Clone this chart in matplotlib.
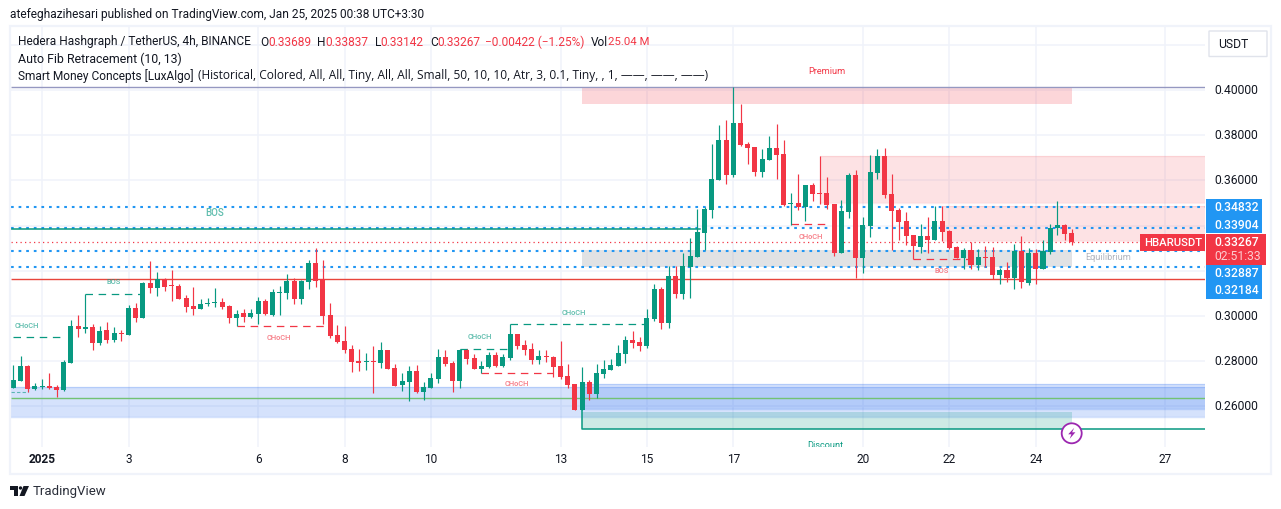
import numpy as np
import matplotlib
matplotlib.use('Agg')
import matplotlib.pyplot as plt
from matplotlib.patches import Rectangle, FancyBboxPatch, Polygon, Ellipse

W, H = 1281, 509
plt.rcParams['font.family'] = ['Roboto', 'DejaVu Sans']

UP = '#089981'
DOWN = '#f23645'
BLUE = '#2196f3'
INK = '#131722'
GRID = '#f0f3fa'

# 4h candles
opens = [.2683, .2714, .2779, .2677, .2688, .2690, .2685, .2673, .2794, .2956, .2944, .2952, .2882, .2938, .2894, .2925,
         .2918, .3036, .2993, .3146, .3126, .3162, .3137, .3133, .3080, .3044, .3033, .3053, .3059, .3062, .3044, .2993,
         .3013, .2997, .3010, .3067, .3005, .3103, .3103, .3155, .3077, .3152, .3235, .3162, .3005, .2916, .2889, .2854,
         .2801, .2798, .2801, .2792, .2849, .2770, .2694, .2708, .2756, .2663, .2681, .2721, .2818, .2792, .2712, .2849,
         .2814, .2765, .2774, .2827, .2778, .2814, .2920, .2871, .2854, .2805, .2823, .2818, .2778, .2734, .2699, .2584,
         .2708, .2655, .2743, .2761, .2778, .2832, .2893, .2885, .2867, .2986, .3119, .2969, .3177, .3097, .3217, .3261,
         .3367, .3469, .3602, .3778, .3624, .3854, .3761, .3747, .3637, .3690, .3743, .3717, .3495, .3500, .3482, .3579,
         .3544, .3544, .3495, .3278, .3460, .3624, .3256, .3398, .3632, .3708, .3540, .3469, .3421, .3359, .3306, .3354,
         .3337, .3421, .3376, .3306, .3257, .3292, .3226, .3261, .3261, .3182, .3204, .3168, .3288, .3146, .3279, .3208,
         .3283, .3390, .3403, .33689]
highs = [.2783, .2823, .2783, .2704, .2721, .2748, .2695, .2805, .2983, .3005, .3096, .2965, .2956, .2974, .2952, .2938,
         .3049, .3058, .3151, .3244, .3195, .3168, .3204, .3142, .3093, .3129, .3075, .3080, .3124, .3080, .3049, .3027,
         .3031, .3031, .3084, .3075, .3120, .3133, .3186, .3168, .3159, .3248, .3301, .3248, .3058, .2960, .2955, .2871,
         .2854, .2836, .2867, .2885, .2849, .2787, .2747, .2778, .2783, .2708, .2747, .2854, .2849, .2801, .2854, .2854,
         .2832, .2801, .2840, .2840, .2832, .2964, .2920, .2893, .2880, .2849, .2849, .2823, .2889, .2787, .2699, .2774,
         .2716, .2787, .2805, .2809, .2871, .2911, .2933, .2907, .3031, .3141, .3128, .3221, .3221, .3278, .3345, .3473,
         .3482, .3761, .3845, .3867, .4013, .3938, .3770, .3747, .3739, .3796, .3849, .3778, .3544, .3628, .3579, .3588,
         .3708, .3615, .3495, .3513, .3632, .3646, .3438, .3712, .3739, .3744, .3629, .3478, .3460, .3359, .3407, .3438,
         .3487, .3487, .3381, .3310, .3301, .3328, .3297, .3310, .3306, .3213, .3239, .3319, .3354, .3301, .3297, .3337,
         .3407, .3509, .3407, .33837]
lows = [.2683, .2714, .2665, .2673, .2679, .2679, .2643, .2668, .2794, .2909, .2926, .2851, .2873, .2882, .2887, .2891,
        .2918, .2975, .2993, .3103, .3090, .3112, .3068, .3077, .3019, .3006, .3033, .3046, .3041, .3033, .2971, .2956,
        .2975, .2993, .2965, .3006, .3002, .3006, .3077, .3055, .3055, .3121, .3130, .2966, .2904, .2882, .2836, .2752,
        .2756, .2761, .2659, .2770, .2765, .2690, .2668, .2624, .2659, .2628, .2681, .2703, .2778, .2663, .2681, .2787,
        .2765, .2749, .2770, .2774, .2774, .2805, .2854, .2827, .2787, .2787, .2796, .2730, .2721, .2681, .2584, .2584,
        .2628, .2637, .2725, .2761, .2778, .2792, .2858, .2845, .2858, .2978, .2942, .2947, .3079, .3075, .3079, .3261,
        .3292, .3433, .3602, .3584, .3615, .3752, .3672, .3619, .3615, .3690, .3606, .3486, .3402, .3469, .3420, .3509,
        .3495, .3473, .3265, .3278, .3433, .3168, .3190, .3349, .3606, .3522, .3292, .3337, .3314, .3251, .3279, .3279,
        .3337, .3332, .3297, .3257, .3208, .3208, .3204, .3217, .3164, .3142, .3151, .3120, .3124, .3137, .3142, .3208,
        .3275, .3359, .3337, .33142]
closes = [.2717, .2779, .2679, .2690, .2690, .2683, .2673, .2797, .2956, .2944, .2952, .2882, .2934, .2894, .2925, .2921,
          .3036, .2993, .3146, .3126, .3162, .3130, .3134, .3077, .3041, .3033, .3053, .3058, .3062, .3041, .2993, .3009,
          .2997, .3013, .3067, .3010, .3106, .3106, .3155, .3077, .3155, .3235, .3156, .3002, .2913, .2887, .2849, .2796,
          .2792, .2801, .2798, .2849, .2765, .2690, .2712, .2756, .2663, .2685, .2725, .2818, .2787, .2712, .2849, .2809,
          .2765, .2778, .2827, .2778, .2818, .2920, .2867, .2849, .2805, .2823, .2820, .2774, .2730, .2694, .2584, .2708,
          .2655, .2747, .2765, .2783, .2836, .2893, .2880, .2867, .2991, .3119, .2969, .3177, .3097, .3221, .3265, .3371,
          .3473, .3606, .3778, .3624, .3854, .3756, .3743, .3637, .3694, .3743, .3712, .3491, .3500, .3482, .3579, .3540,
          .3541, .3491, .3278, .3464, .3624, .3256, .3402, .3637, .3708, .3536, .3465, .3416, .3354, .3310, .3354, .3337,
          .3421, .3372, .3301, .3257, .3292, .3226, .3261, .3258, .3182, .3204, .3168, .3288, .3151, .3279, .3208, .3288,
          .3390, .3403, .3363, .33267]

# date axis
tick_index = [4, 16, 34, 46, 58, 76, 88, 100, 118, 130, 142, 160]
tick_labels = ['2025', '3', '6', '8', '10', '13', '15', '17', '20', '22', '24', '27']
price_ticks = [.26, .28, .30, .32, .34, .36, .38, .40, .42]
price_labels = ['0.26000', '0.28000', '0.30000', None, None, '0.36000', '0.38000', '0.40000', None]

# Fib levels and last price
fib_levels = [.34832, .33904, .32887, .32184]
last_price = .33267
countdown = '02:51:33'
bos_level = .3386
lower_red_level = .3162
top_level = .4012
green_level = .2636
discount_level = .2498

# zones: start index, end index (None runs to the pane edge), top, bottom
premium_zone = (79, 147, .4012, .3939)
equilibrium_zone = (79, 147, .3292, .3217)
discount_zone = (79, 147, .2575, .2498)
supply_zones = [(112, None, .3708, .3498), (129, None, .3487, .3332)]
demand_zones = [(-1, None, .2684, .2554), (79, None, .2699, .2590)]

# structure breaks: start, end, level, colour
break_lines = [(0, 7, .2905, UP), (10, 18, .3096, UP), (31, 44, .2954, DOWN), (62, 69, .2854, UP),
               (69, 88, .2963, UP), (65, 75, .2750, DOWN), (108, 113, .3406, DOWN), (125, 133, .3251, DOWN)]
break_labels = [(1.9, .2958, 'CHoCH', UP, 5.4), (13.9, .3152, 'BOS', UP, 5.4), (28, .3456, 'BOS', UP, 7),
                (36.9, .2903, 'CHoCH', DOWN, 5.4), (64.8, .2907, 'CHoCH', UP, 5.4), (77.9, .3015, 'CHoCH', UP, 5.4),
                (69.9, .2699, 'CHoCH', DOWN, 5.4), (110.8, .3351, 'CHoCH', DOWN, 5.4), (128.9, .3200, 'BOS', DOWN, 5.4)]


def fx(x):
    return x / W


def fy(y):
    return 1 - y / H


def ptext(x, y, s, **kw):
    kw.setdefault('color', INK)
    kw.setdefault('fontsize', 8.6)
    kw.setdefault('va', 'center')
    return fig.text(fx(x), fy(y), s, **kw)


fig = plt.figure(figsize=(W / 100, H / 100), dpi=100, facecolor='white')

# pane: x and y limits come from the price and candle scales
ax = fig.add_axes([fx(11), fy(447), (1205 - 11) / W, (447 - 27) / H])
ax.set_xlim(-0.32, 165.5)
ax.set_ylim(.24204, .42788)
for s in ax.spines.values():
    s.set_visible(False)
ax.set_xticks([])
ax.set_yticks([])

ax.hlines(price_ticks, -1, 166, color=GRID, lw=1.1, zorder=0)
ax.vlines(tick_index, .2, .45, color=GRID, lw=1.1, zorder=0)
xmax = ax.get_xlim()[1]
xmin = ax.get_xlim()[0]

# zones
for x0, x1, top, bot in supply_zones:
    x1 = xmax if x1 is None else x1
    ax.add_patch(Rectangle((x0, bot), x1 - x0, top - bot, fc=DOWN, alpha=.14, ec='none', zorder=1))
    ax.hlines([top, bot], x0, x1, color=DOWN, alpha=.1, lw=1, zorder=1)
for x0, x1, top, bot in demand_zones:
    x1 = xmax if x1 is None else x1
    ax.add_patch(Rectangle((x0, bot), x1 - x0, top - bot, fc='#2e6ff0', alpha=.2, ec='none', zorder=1))
    ax.hlines([top, bot], x0, x1, color='#2e6ff0', alpha=.2, lw=1, zorder=1)
x0, x1, top, bot = premium_zone
ax.add_patch(Rectangle((x0, bot), x1 - x0, top - bot, fc=DOWN, alpha=.2, ec='none', zorder=1))
x0, x1, top, bot = equilibrium_zone
ax.add_patch(Rectangle((x0, bot), x1 - x0, top - bot, fc='#787b86', alpha=.22, ec='none', zorder=1))
x0, x1, top, bot = discount_zone
ax.add_patch(Rectangle((x0, bot), x1 - x0, top - bot, fc=UP, alpha=.2, ec='none', zorder=1))

# levels
ax.hlines(top_level, xmin, xmax, color='#9598c1', lw=1, zorder=2)
ax.hlines(lower_red_level, xmin, xmax, color='#e8453c', lw=1, zorder=2)
ax.hlines(green_level, xmin, xmax, color='#72c274', lw=1, zorder=2)
ax.plot([79, 79, xmax], [.2699, discount_level, discount_level], color=UP, lw=1.1, zorder=2)
ax.plot([xmin, 2], [.2662, .2662], color=UP, alpha=.6, lw=.8, ls=(0, (3, 2)), zorder=2)
ax.plot([xmin, xmax], [last_price, last_price], color=DOWN, lw=.9, ls=(0, (1, 2.6)), zorder=2)
for lev in fib_levels:
    ax.plot([xmin, xmax], [lev, lev], color=BLUE, lw=1.5, ls=(0, (1.3, 2.35)), zorder=2)
ax.plot([xmin, 95.3], [bos_level, bos_level], color=UP, lw=1.1, zorder=3)

for x0, x1, lev, c in break_lines:
    ax.plot([x0, x1], [lev, lev], color=c, lw=.9, ls=(0, (6, 4.5)), zorder=2)
for x, p, s, c, size in break_labels:
    ax.text(x, p, s, color=c, alpha=.65, fontsize=size, fontweight='medium', ha='center', va='center', zorder=3)
ax.text(113, .408, 'Premium', color=DOWN, fontsize=6.6, ha='center', va='center')
ax.text(112.8, .2428, 'Discount', color=UP, fontsize=6.6, ha='center', va='center', clip_on=True)
ax.text(152, .3257, 'Equilibrium', color='#b2b5be', fontsize=6.6, ha='center', va='center')

# candles
idx = np.arange(len(closes))
o = np.array(opens)
c = np.array(closes)
colors = [UP if cl >= op else DOWN for op, cl in zip(o, c)]
ax.vlines(idx, lows, highs, color=colors, lw=.85, zorder=4)
ax.bar(idx, np.maximum(np.abs(c - o), .0004), bottom=np.minimum(o, c), width=.7, color=colors, lw=0, zorder=5)

# alert icon sits over the pane
bolt_x, bolt_y = 1071.7, 433.3
fig.add_artist(Ellipse((fx(bolt_x), fy(bolt_y)), 20 / W, 20 / H, fc='white', ec='#9c27b0', lw=1.3, zorder=8))
bolt = [(2.5, -5.5), (-3.5, 1), (-.3, 1), (-2, 5.5), (3.7, -1), (.4, -1)]
fig.add_artist(Polygon([(fx(bolt_x + a), fy(bolt_y + b)) for a, b in bolt], fc='#9c27b0', ec='none', zorder=9))

# frame
fig.add_artist(Rectangle((fx(10), fy(474)), (1271 - 10) / W, (474 - 26) / H, fc='none', ec=GRID, lw=1.6, zorder=1))

# price axis
for p, s in zip(price_ticks, price_labels):
    if s is not None:
        ptext(1214, 90.5 + (.40 - p) * 2260, s, fontsize=8.7)

# price tags
fig.add_artist(Rectangle((fx(1206), fy(216)), 56 / W, 17 / H, fc=BLUE, ec='none', zorder=5))
fig.add_artist(Rectangle((fx(1206), fy(233)), 56 / W, 16.5 / H, fc=BLUE, ec='none', zorder=5))
fig.add_artist(Rectangle((fx(1206), fy(298.5)), 56 / W, 33.5 / H, fc=BLUE, ec='none', zorder=5))
fig.add_artist(Rectangle((fx(1206), fy(265)), 60 / W, 31 / H, fc=DOWN, ec='none', zorder=6))
fig.add_artist(Rectangle((fx(1140), fy(251)), 65 / W, 17 / H, fc=DOWN, ec='none', zorder=6))
tag_text = dict(color='white', fontsize=8.7, fontweight='medium', zorder=7)
for lev, y in zip(fib_levels, [207.7, 225.7, 273.3, 290.7]):
    ptext(1214, y, '%.5f' % lev, **tag_text)
ptext(1214, 242.7, '%.5f' % last_price, **tag_text)
ptext(1214, 256.7, countdown, color='white', alpha=.75, fontsize=8.7, zorder=7)
ptext(1144, 242.7, 'HBARUSDT', color='white', fontsize=8.1, fontweight='medium', zorder=7)

# currency button
fig.add_artist(FancyBboxPatch((fx(1209), fy(56.5)), 58 / W, 25.5 / H, boxstyle='round,pad=0', fc='white',
                              ec='#e0e3eb', lw=1, zorder=3))
ptext(1218, 44.5, 'USDT', fontsize=8.7)

# date axis
for i, s in zip(tick_index, tick_labels):
    x = 13.3 + 7.2 * i
    ptext(x, 459.5, s, ha='center', fontsize=8.6, fontweight='bold' if s == '2025' else 'normal')

# header
ptext(10, 14.5, 'atefeghazihesari published on TradingView.com, Jan 25, 2025 00:38 UTC+3:30', fontsize=8.6)
ptext(18, 42, 'Hedera Hashgraph / TetherUS, 4h, BINANCE')
for x, s in [(260, 'O'), (317.5, 'H'), (374.5, 'L'), (430, 'C'), (590.6, 'Vol')]:
    ptext(x, 42, s)
for x, s in [(268, '0.33689'), (325.5, '0.33837'), (380, '0.33142'), (437.7, '0.33267'),
             (485, '−0.00422 (−1.25%)')]:
    ptext(x, 42, s, color=DOWN)
ptext(607.5, 42, '25.04 M', color=DOWN, fontsize=8.2)
ptext(18, 59, 'Auto Fib Retracement (10, 13)', fontsize=8.9)
ptext(18, 76, 'Smart Money Concepts [LuxAlgo]')
ptext(198, 76, '(Historical, Colored, All, All, Tiny, All, All, Small, 50, 10, 10, '
      'Atr, 3, 0.1, Tiny, , 1, ——, ——, ——)', family=['Open Sans', 'DejaVu Sans'], fontsize=8.6)

# footer logo
logo_bar = [(10, 486), (18, 486), (18, 496), (14, 496), (14, 489.5), (10, 489.5)]
logo_slash = [(23.5, 486), (29, 486), (24.5, 496), (19.5, 496)]
fig.add_artist(Polygon([(fx(a), fy(b)) for a, b in logo_bar], fc=INK, ec='none'))
fig.add_artist(Polygon([(fx(a), fy(b)) for a, b in logo_slash], fc=INK, ec='none'))
fig.add_artist(Ellipse((fx(20.5), fy(488)), 3.4 / W, 3.4 / H, fc=INK, ec='none'))
ptext(33, 491, 'TradingView', fontsize=9.5, color='#2a2e39')

fig.savefig('out.png', dpi=100)
